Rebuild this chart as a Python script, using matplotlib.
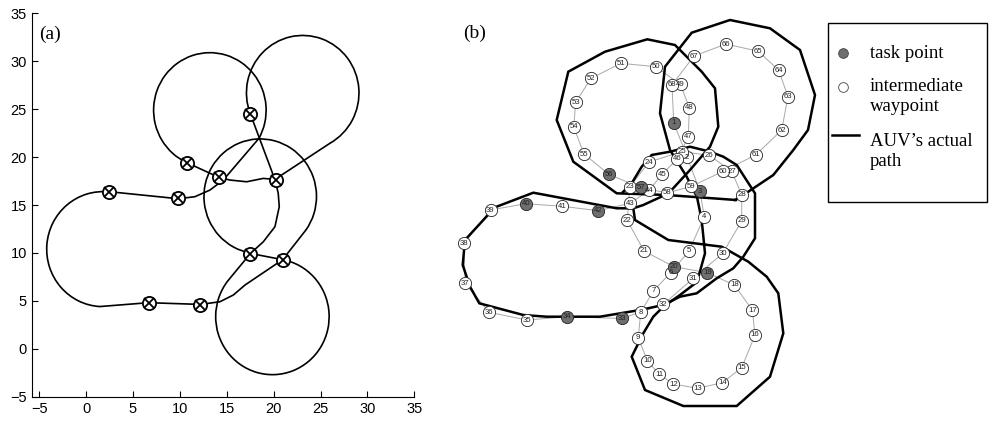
import matplotlib.pyplot as plt
from matplotlib.patches import Arc, Rectangle

# ---------------- panel (a): task points and AUV path (data units) ----------------
TASK_X = [17.5, 10.8, 14.2, 20.2, 2.4, 9.8, 17.5, 21.0, 6.7, 12.2]
TASK_Y = [24.5, 19.4, 17.9, 17.6, 16.4, 15.7, 9.9, 9.3, 4.8, 4.6]

# turning circles: centre x, centre y, radius, start angle, end angle
ARCS = [
    (13.2, 24.9, 6.0, -30, 246),
    (23.1, 26.7, 6.0, -61, 201),
    (18.57, 15.9, 6.0, -36, 260),
    (19.87, 3.35, 6.05, 142, 440),
    (1.8, 10.4, 6.0, 84, 267),
]

# straight / transition pieces of the path
SEGMENTS = [
    [(2.4, 16.4), (9.83, 15.66), (11.6, 15.87), (13.2, 16.56), (14.63, 17.61), (18.38, 21.9)],
    [(10.8, 19.4), (14.16, 17.89), (15.34, 17.61), (17.12, 17.43), (18.89, 17.78),
     (20.14, 17.68), (26.01, 21.45)],
    [(17.5, 24.55), (20.17, 17.57), (20.49, 16.22), (20.6, 14.83), (20.14, 12.74),
     (18.9, 11.17), (17.53, 9.95)],
    [(20.96, 9.3), (17.53, 9.95), (15.1, 7.07)],
    [(1.49, 4.41), (6.66, 4.81), (12.21, 4.63), (14.27, 4.91), (15.7, 5.61),
     (16.94, 6.65), (20.96, 9.3), (23.42, 12.37)],
]

TICKS = [-5, 0, 5, 10, 15, 20, 25, 30, 35]

# ---------------- panel (b): waypoint graph (picture pixel units) ----------------
NODE_XY = {
    1: (673.7, 122.7), 2: (687.3, 157.3), 3: (700.0, 191.5), 4: (704.3, 216.7),
    5: (689.0, 251.0), 6: (670.7, 272.7), 7: (653.3, 291.0), 8: (640.7, 312.3),
    9: (638.3, 337.7), 10: (647.3, 360.7), 11: (659.0, 374.0), 12: (673.3, 384.0),
    13: (697.7, 388.3), 14: (722.3, 382.7), 15: (741.7, 367.7), 16: (755.0, 335.0),
    17: (752.3, 310.0), 18: (734.3, 285.0), 19: (707.3, 272.7), 20: (674.0, 266.7),
    21: (644.0, 251.0), 22: (627.3, 220.5), 23: (629.8, 187.0), 24: (649.0, 162.0),
    25: (681.7, 151.7), 26: (709.3, 155.3), 27: (731.7, 171.3), 28: (741.7, 194.7),
    29: (741.7, 221.0), 30: (722.7, 253.3), 31: (693.3, 278.3), 32: (663.3, 304.3),
    33: (621.7, 318.5), 34: (567.3, 316.7), 35: (526.7, 320.0), 36: (489.3, 312.3),
    37: (465.0, 283.3), 38: (464.0, 243.3), 39: (490.5, 210.0), 40: (525.7, 203.7),
    41: (562.3, 206.3), 42: (598.3, 210.7), 43: (630.0, 203.3), 44: (649.0, 190.5),
    45: (662.3, 174.0), 46: (677.3, 159.0), 47: (688.3, 137.0), 48: (689.3, 107.7),
    49: (680.5, 84.5), 50: (655.7, 66.7), 51: (621.0, 63.3), 52: (591.0, 78.3),
    53: (575.7, 102.3), 54: (573.7, 127.0), 55: (584.0, 154.0), 56: (609.0, 174.5),
    57: (640.7, 187.5), 58: (667.0, 193.0), 59: (691.3, 186.3), 60: (723.3, 171.3),
    61: (756.0, 154.7), 62: (781.7, 130.0), 63: (788.0, 96.7), 64: (778.7, 70.3),
    65: (758.3, 51.3), 66: (726.0, 44.0), 67: (694.0, 56.0), 68: (672.0, 85.0),
}
TASK_NODES = [1, 3, 19, 20, 33, 34, 40, 42, 56, 57]
VISIT_ORDER = list(range(1, 69)) + [1]

AUV_PATHS = [
    [(736, 200), (667, 195), (616.7, 193.3), (573.3, 161.7), (556.7, 120), (568.3, 71.7),
     (605, 51.7), (647.3, 39.3), (675, 45), (701.7, 71.7), (715, 88.3), (718.3, 126.7),
     (710, 146.7), (690, 170), (667, 195)],
    [(735, 200), (748.3, 191.7), (773.3, 175), (793.3, 150), (808, 130), (815, 95),
     (800, 50), (770, 28.3), (730, 20), (691.7, 32.7), (665, 66.7), (660, 113.3),
     (670, 150), (686.7, 176.7), (697, 197), (701.7, 220), (705, 253.3), (697, 282),
     (680, 295), (663.3, 306.7), (653.3, 316.7), (643.3, 333.3), (631.7, 356.7),
     (645, 390), (683.3, 406), (736.7, 406), (770, 376.7), (783.3, 333.3),
     (778.3, 293.3), (766.7, 276.7), (748.3, 261.7), (721.7, 246.7), (668.3, 240),
     (635, 220), (633.3, 208.3)],
    [(665, 195), (643.3, 205), (633.3, 208.3), (616.7, 208.3), (533.3, 192.7),
     (495, 207.3), (465, 240), (462.7, 265), (470, 286.7), (479.3, 303.3),
     (523.3, 315), (546.7, 316.7), (600, 316.7), (640, 310), (663.3, 305),
     (680, 296.7), (696.7, 293.3), (716.7, 278.3), (733.3, 268.3), (743.3, 256.7),
     (755, 238.3), (755, 193.3), (736.7, 165), (723.3, 156.7), (710, 151.7),
     (690, 146.7), (670, 151.7), (651.7, 155), (641.7, 166.7), (631.7, 183.3),
     (623, 192)],
]

LEGEND_LABELS = ["task point", "intermediate\nwaypoint", "AUV\u2019s actual\npath"]

SERIF = ["Liberation Serif", "DejaVu Serif"]
SANS = ["Liberation Sans", "DejaVu Sans"]

W, H = 992, 423
fig = plt.figure(figsize=(W / 100, H / 100), dpi=100)

# ---- (a)
ax = fig.add_axes([31.7 / W, 26.3 / H, 382.6 / W, 383.3 / H])
for cx, cy, r, t1, t2 in ARCS:
    ax.add_patch(Arc((cx, cy), 2 * r, 2 * r, theta1=t1, theta2=t2,
                     color="black", lw=1.2))
for seg in SEGMENTS:
    xs, ys = zip(*seg)
    ax.plot(xs, ys, color="black", lw=1.2, solid_capstyle="round")
ax.plot(TASK_X, TASK_Y, "o", ms=9.5, mfc="white", mec="black", mew=1.3, zorder=5)
ax.plot(TASK_X, TASK_Y, "x", ms=6.5, color="black", mew=1.3, zorder=6)

ax.set_xlim(-5.8, 35)
ax.set_ylim(-5, 35)
ax.set_xticks(TICKS)
ax.set_yticks(TICKS)
ax.tick_params(direction="in", length=4, labelsize=10.5, width=0.8)
for lab in ax.get_xticklabels() + ax.get_yticklabels():
    lab.set_family(SANS)
for side in ["top", "right"]:
    ax.spines[side].set_visible(False)
ax.text(-5.0, 32.8, "(a)", fontsize=14, family=SERIF, va="center", ha="left")

# ---- (b)
bx = fig.add_axes([440 / W, 0, (W - 440) / W, 1])
bx.set_xlim(440, W)
bx.set_ylim(H, 0)
bx.axis("off")

gx = [NODE_XY[n][0] for n in VISIT_ORDER]
gy = [NODE_XY[n][1] for n in VISIT_ORDER]
bx.plot(gx, gy, color="#a8a8a8", lw=0.7, zorder=1)

for path in AUV_PATHS:
    xs, ys = zip(*path)
    bx.plot(xs, ys, color="black", lw=1.8, zorder=2, solid_joinstyle="miter")

for n, (x, y) in NODE_XY.items():
    face = "#6e6e6e" if n in TASK_NODES else "white"
    bx.plot(x, y, "o", ms=8.8, mfc=face, mec="#222222", mew=0.6, zorder=3)
    bx.text(x, y, str(n), fontsize=5.6, family=SANS, ha="center", va="center",
            color="#222222", zorder=4)

bx.text(463, 33, "(b)", fontsize=14, family=SERIF, va="center", ha="left")

# legend box
bx.add_patch(Rectangle((828, 23), 159, 179, fill=False, ec="black", lw=1.0, zorder=5))
bx.plot(842.5, 53, "o", ms=7, mfc="#6e6e6e", mec="#444444", mew=0.6, zorder=6)
bx.plot(842.5, 87.5, "o", ms=7, mfc="white", mec="#444444", mew=0.6, zorder=6)
bx.plot([832, 859], [135, 135], color="black", lw=1.8, zorder=6)
bx.text(870, 53, LEGEND_LABELS[0], fontsize=13.5, family=SERIF, va="center")
bx.text(870, 96.5, LEGEND_LABELS[1], fontsize=13.5, family=SERIF, va="center",
        linespacing=1.2)
bx.text(870, 151.5, LEGEND_LABELS[2], fontsize=13.5, family=SERIF, va="center",
        linespacing=1.2)

fig.savefig("out.png", dpi=100)
